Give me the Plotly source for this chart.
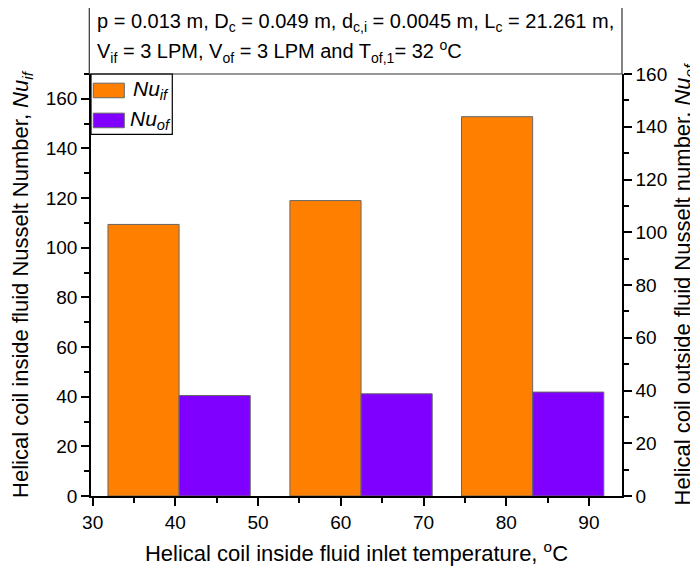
import plotly.graph_objects as go

# Data
temperatures = [40.45, 62.45, 83.2]        # group centre (boundary between the two bars), °C
nu_if = [109.4, 119.0, 152.8]              # left axis
nu_of = [38.1, 38.75, 39.4]                # right axis
bar_width = 8.6

orange = "#FF8000"
purple = "#8000FF"
edge = "#666666"
FONT = "Arial, Liberation Sans, sans-serif"

OFF = 8  # page body margin offset
W, H = 698 - OFF, 566 - OFF
ml, mr, mt, mb = 90.7 - OFF, 76.3, 73.5 - OFF, 70
pw, ph = W - ml - mr, H - mt - mb

def px(x):   # reference page pixel -> paper
    return (x - OFF - ml) / pw

def py(y):
    return (H - mb - (y - OFF)) / ph

fig = go.Figure()
fig.add_trace(go.Bar(
    x=temperatures, y=nu_if, width=bar_width, offset=-bar_width,
    marker=dict(color=orange, line=dict(color=edge, width=1)),
    name="Nu_if", showlegend=False, yaxis="y"))
fig.add_trace(go.Bar(
    x=temperatures, y=nu_of, width=bar_width, offset=0,
    marker=dict(color=purple, line=dict(color=edge, width=1)),
    name="Nu_of", showlegend=False, yaxis="y2"))

axis_common = dict(showline=True, linecolor="black", linewidth=1.5, ticks="outside",
                   ticklen=8, tickwidth=1.5, tickcolor="black", showgrid=False, zeroline=False,
                   automargin=False,
                   tickfont=dict(size=19, color="black", family=FONT))
minor = dict(ticklen=5, ticks="outside", tickcolor="black", tickwidth=1.5)

fig.update_layout(
    width=W, height=H, margin=dict(l=ml, r=mr, t=mt, b=mb),
    paper_bgcolor="white", plot_bgcolor="white",
    barmode="overlay", font=dict(family=FONT, color="black"),
    xaxis=dict(range=[29.8, 94.0], dtick=10, tick0=30, minor=dict(dtick=5, **minor),
               title=dict(text="Helical coil inside fluid inlet temperature, <sup>o</sup>C",
                          font=dict(size=22, family=FONT), standoff=16),
               **axis_common),
    yaxis=dict(range=[0, 170], dtick=20, minor=dict(dtick=10, **minor),
               title=dict(text="Helical coil inside fluid Nusselt Number, <i>Nu<sub>if</sub></i>",
                          font=dict(size=22, family=FONT), standoff=12),
               **axis_common),
    yaxis2=dict(range=[0, 160], dtick=20, overlaying="y", side="right",
                minor=dict(dtick=10, **minor),
                title=dict(text="Helical coil outside fluid Nusselt number, <i>Nu<sub>of</sub></i>",
                           font=dict(size=22, family=FONT), standoff=12),
                **axis_common),
)

shapes = []
# parameter text box
shapes.append(dict(type="rect", xref="paper", yref="paper", x0=px(89), x1=px(621.7),
                   y0=py(73.5), y1=py(5), line=dict(color="#333333", width=1.2)))
# legend box
shapes.append(dict(type="rect", xref="paper", yref="paper", x0=px(90.7), x1=px(172),
                   y0=py(134), y1=py(73.5), line=dict(color="black", width=1.2)))
shapes.append(dict(type="rect", xref="paper", yref="paper", x0=px(93), x1=px(124),
                   y0=py(97.3), y1=py(82.7), fillcolor=orange, line=dict(color=edge, width=1)))
shapes.append(dict(type="rect", xref="paper", yref="paper", x0=px(93), x1=px(124),
                   y0=py(127.3), y1=py(112.7), fillcolor=purple, line=dict(color=edge, width=1)))
fig.update_layout(shapes=shapes)

ann = [
    dict(text="p = 0.013 m, D<sub>c</sub> = 0.049 m, d<sub>c,i</sub> = 0.0045 m, L<sub>c</sub> = 21.261 m,",
         x=px(95), y=py(22), xanchor="left", yanchor="middle"),
    dict(text="V<sub>if</sub> = 3 LPM, V<sub>of</sub> = 3 LPM and T<sub>of,1</sub>= 32 <sup>o</sup>C",
         x=px(95), y=py(51), xanchor="left", yanchor="middle"),
    dict(text="<i>Nu<sub>if</sub></i>", x=px(131), y=py(90), xanchor="left", yanchor="middle",
         font=dict(size=21, family=FONT, color="black")),
    dict(text="<i>Nu<sub>of</sub></i>", x=px(128), y=py(120), xanchor="left", yanchor="middle",
         font=dict(size=21, family=FONT, color="black")),
]
for a in ann:
    a.setdefault("font", dict(size=20, family=FONT, color="black"))
    fig.add_annotation(xref="paper", yref="paper", showarrow=False, **a)

fig.write_html("out.html")
